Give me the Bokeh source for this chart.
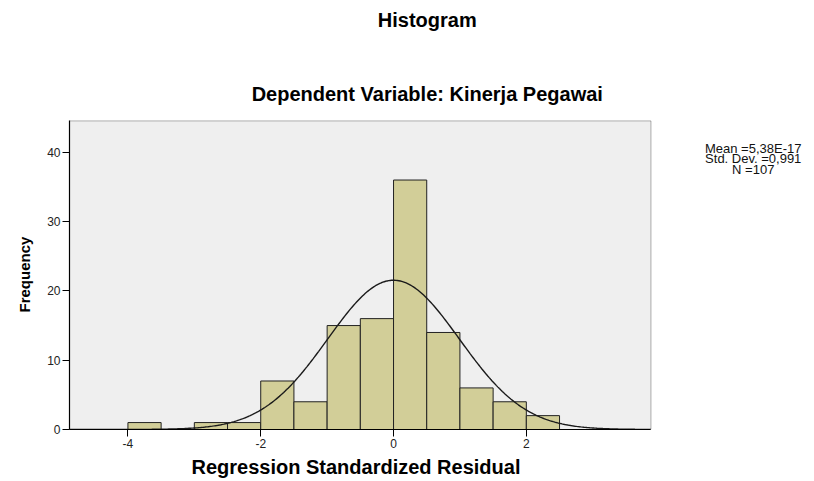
import numpy as np
from bokeh.plotting import figure
from bokeh.models import Range1d, Label, FixedTicker, BoxAnnotation, Title
from bokeh.embed import file_html
from bokeh.resources import INLINE

# ---- data ----
bin_left = [-4.0, -3.5, -3.0, -2.5, -2.0, -1.5, -1.0, -0.5, 0.0, 0.5, 1.0, 1.5, 2.0]
bin_right = [-3.5, -3.0, -2.5, -2.0, -1.5, -1.0, -0.5, 0.0, 0.5, 1.0, 1.5, 2.0, 2.5]
counts = [1, 0, 1, 1, 7, 4, 15, 16, 36, 14, 6, 4, 2]
stat_mean = 5.38e-17
stat_sd = 0.991
stat_n = 107
x_ticks = [-4, -2, 0, 2]
x_tick_labels = ["-4", "-2", "0", "2"]
y_ticks = [0, 10, 20, 30, 40]
title_text = "Histogram"
subtitle_text = "Dependent Variable: Kinerja Pegawai"
x_label = "Regression Standardized Residual"
y_label = "Frequency"
stats_lines = ["Mean =5,38E-17", "Std. Dev. =0,991", "N =107"]

FONT = "Liberation Sans"
BAR = "#D2CE98"
# visible plot-area extent (x in residual units, y in frequency)
X0, X1 = -4.88, 3.877
Y1 = 44.53
PX_X = 66.4   # pixels per x unit
PX_Y = 6.93   # pixels per y unit

FW, FH = 745, 429
p = figure(title=None, frame_width=FW, frame_height=FH,
           min_border_left=69, min_border_right=0,
           min_border_top=0, min_border_bottom=52,
           x_range=Range1d(X0, X0 + FW / PX_X), y_range=Range1d(0, FH / PX_Y),
           output_backend="svg", toolbar_location=None)

p.background_fill_color = "white"
p.border_fill_color = "white"
p.outline_line_color = None
p.xgrid.visible = False
p.ygrid.visible = False

# grey plot area with black border
p.add_layout(BoxAnnotation(left=X0, right=X1, bottom=0, top=Y1,
                           fill_color="#EFEFEF", fill_alpha=1.0,
                           line_color="black", line_width=1, level="underlay"))

# bars
p.quad(left=bin_left, right=bin_right, bottom=0, top=counts,
       fill_color=BAR, line_color="#222222", line_width=1)

# fitted normal curve from the printed statistics
bw = bin_right[0] - bin_left[0]
xs = np.linspace(X0, X1, 400)
ys = stat_n * bw * np.exp(-0.5 * ((xs - stat_mean) / stat_sd) ** 2) / (stat_sd * np.sqrt(2 * np.pi))
p.line(xs, ys, line_color="#1a1a1a", line_width=1.4)

# axes
for ax in (p.xaxis[0], p.yaxis[0]):
    ax.axis_line_color = "black"
    ax.axis_line_width = 1.2
    ax.major_tick_line_color = "black"
    ax.major_tick_out = 7
    ax.major_tick_in = 0
    ax.minor_tick_line_color = None
    ax.major_label_text_font = FONT
    ax.major_label_text_font_size = "12px"
    ax.major_label_text_color = "#222222"
    ax.major_label_standoff = 2

p.xaxis.ticker = FixedTicker(ticks=x_ticks)
p.xaxis.major_label_overrides = dict(zip(x_ticks, x_tick_labels))
p.xaxis.bounds = (X0, X1)
p.yaxis.ticker = FixedTicker(ticks=y_ticks)
p.yaxis.bounds = (0, Y1)

# axis titles as side-panel titles (placed along the visible plot area)
p.add_layout(Title(text=x_label, align="left", offset=122, standoff=6,
                   text_font=FONT, text_font_style="bold", text_font_size="20px",
                   text_color="black"), "below")
p.add_layout(Title(text=y_label, align="left", offset=117, standoff=24,
                   text_font=FONT, text_font_style="bold", text_font_size="15px",
                   text_color="black"), "left")

def add_text(txt, x, y, size, bold=True, color="black"):
    p.add_layout(Label(x=x, y=y, text=txt, text_align="center",
                       text_baseline="alphabetic", text_font=FONT,
                       text_font_style="bold" if bold else "normal",
                       text_font_size=size, text_color=color))

add_text(title_text, 0.508, 59.14, "20px")
add_text(subtitle_text, 0.508, 48.4, "20px")
for line, yy in zip(stats_lines, [40.6, 39.07, 37.55]):
    add_text(line, 5.417, yy, "13px", bold=False, color="#111111")

open("out.html", "w").write(file_html(p, INLINE))
